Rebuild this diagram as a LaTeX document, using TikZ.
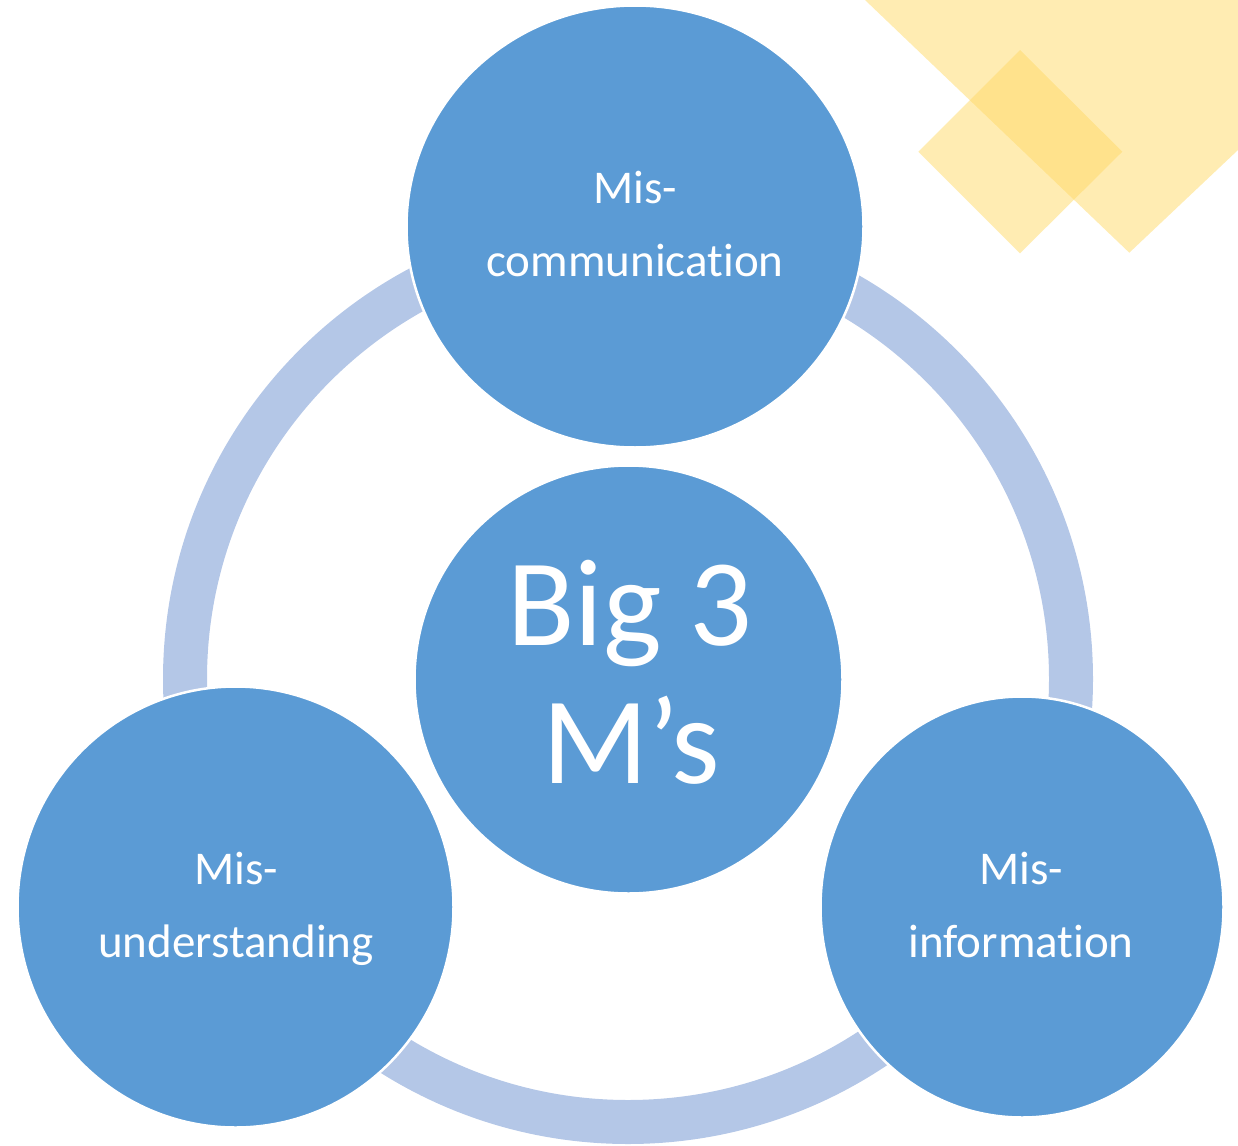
\documentclass[tikz,border=0pt]{standalone}
\usepackage{fontspec}
\setmainfont{Carlito}[Ligatures={NoCommon}]
\usetikzlibrary{shapes.geometric}
\definecolor{bubble}{HTML}{5B9BD5}
\definecolor{ringc}{HTML}{B4C7E7}
\definecolor{gold}{HTML}{FFD966}
\begin{document}
\begin{tikzpicture}[x=1pt,y=-1pt,
  bubble/.style={ellipse, fill=bubble, draw=white, line width=2.5pt, inner sep=0pt},
  lbl/.style={text=white, font=\fontsize{47}{47}\selectfont, anchor=base, inner sep=0pt},
  biglbl/.style={text=white, font=\fontsize{124}{124}\selectfont, anchor=base, inner sep=0pt},
  deco/.style={fill=gold, fill opacity=0.5}]
\useasboundingbox (0,0) rectangle (1238,1145);
% decorative diamonds in the corner
\fill[deco] (865,0) -- (1129.3,252.7) -- (1238,150) -- (1238,0) -- cycle;
\fill[deco] (918.3,151.7) -- (1020,50) -- (1122.3,151.7) -- (1020,253.3) -- cycle;
% cycle ring behind the bubbles
\draw[ringc, line width=44pt] (628,679) circle[radius=443pt];
% bubbles
\node[bubble, minimum width=457pt, minimum height=442pt] (top) at (635,226.5) {};
\node[bubble, minimum width=436pt, minimum height=441pt] (left) at (235.5,907) {};
\node[bubble, minimum width=403pt, minimum height=421pt] (right) at (1022,907) {};
\node[bubble, minimum width=428pt, minimum height=428pt] (mid) at (628.5,679.5) {};
% labels
\node[lbl] (topA) at (635,203) {Mis-};
\node[lbl] (topB) at (635,276) {communication};
\node[lbl] (leftA) at (236,884) {Mis-};
\node[lbl] (leftB) at (236,957) {understanding};
\node[lbl] (rightA) at (1021,884) {Mis-};
\node[lbl] (rightB) at (1021,957) {information};
\node[biglbl] (midA) at (630,645) {Big 3};
\node[biglbl] (midB) at (631,783) {M’s};
\end{tikzpicture}
\end{document}
